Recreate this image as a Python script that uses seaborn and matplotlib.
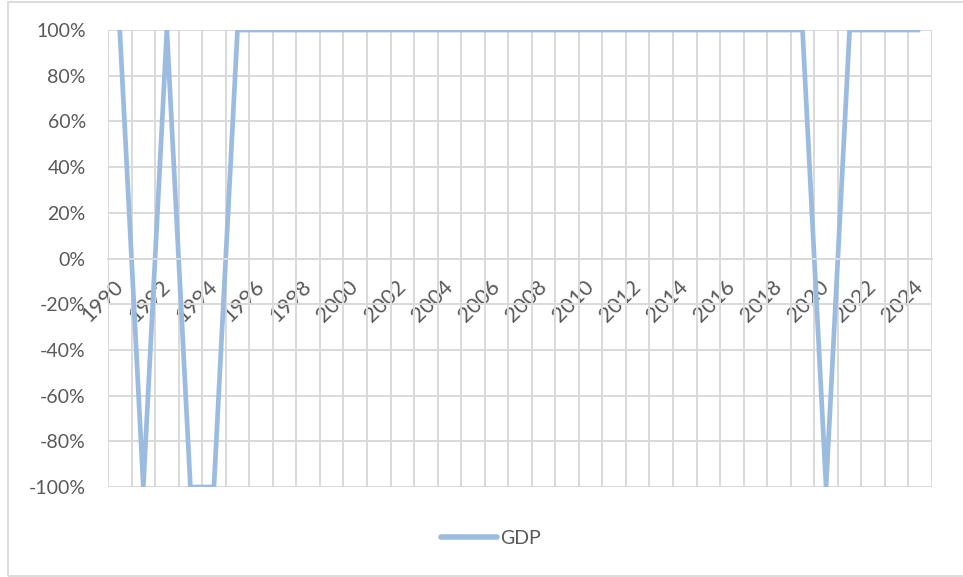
import matplotlib
matplotlib.use("Agg")
import matplotlib.pyplot as plt
from matplotlib.ticker import FixedLocator, FuncFormatter
import seaborn as sns
import pandas as pd
from matplotlib.patches import Rectangle

# Year-on-year GDP growth sign series
years = list(range(1990, 2025))
gdp = [1, -1, 1, -1, -1] + [1] * 25 + [-1] + [1] * 4

sns.set_theme(style="white")
plt.rcParams["font.family"] = ["Lato", "DejaVu Sans"]

df = pd.DataFrame({"pos": range(len(years)), "GDP": gdp, "series": "GDP"})

fig = plt.figure(figsize=(9.63, 5.77), dpi=100)
ax = fig.add_axes([108 / 963, 1 - 487 / 577, (932 - 108) / 963, (487 - 30) / 577])

line_color = "#9BBBE0"
grid_color = "#D9D9D9"
text_color = "#595959"

sns.lineplot(data=df, x="pos", y="GDP", hue="series", palette=[line_color],
             linewidth=3.4, ax=ax, legend=True, solid_capstyle="butt")

ax.set_xlim(-0.5, len(years) - 0.5)
ax.set_ylim(-1, 1)
ax.set_xlabel("")
ax.set_ylabel("")

# vertical gridlines between categories, horizontal every 20%
ax.xaxis.set_minor_locator(FixedLocator([i - 0.5 for i in range(len(years) + 1)]))
ax.xaxis.set_major_locator(FixedLocator(list(range(0, len(years), 2))))
ax.set_xticklabels([str(y) for y in years[::2]])
ax.set_yticks([i / 5 for i in range(-5, 6)])
ax.yaxis.set_major_formatter(FuncFormatter(lambda v, _: f"{round(v * 100)}%"))

ax.grid(False)
ax.grid(True, which="minor", axis="x", color=grid_color, linewidth=1.4)
ax.grid(True, which="major", axis="y", color=grid_color, linewidth=1.4)
ax.set_axisbelow(True)

for s in ["top", "right", "left"]:
    ax.spines[s].set_visible(False)
ax.spines["bottom"].set_position(("data", 0))
ax.spines["bottom"].set_color(grid_color)
ax.spines["bottom"].set_linewidth(1.4)

ax.tick_params(axis="y", which="both", length=0, colors=text_color, labelsize=14, pad=16)
ax.tick_params(axis="x", which="both", length=0, colors=text_color, labelsize=15.5, pad=18)
for lab in ax.get_xticklabels():
    lab.set_rotation(45)
    lab.set_rotation_mode("anchor")
    lab.set_ha("right")
    lab.set_va("center")
    lab.set_color(text_color)

leg = ax.legend(loc="center", bbox_to_anchor=(491 / 963, (577 - 538) / 577),
                bbox_transform=fig.transFigure, frameon=False,
                fontsize=14, handlelength=2.85, handletextpad=0.15,
                labelcolor=text_color)
for h in leg.get_lines():
    h.set_linewidth(4)
    h.set_solid_capstyle("round")

# chart area border
fig.patches.append(Rectangle((8 / 963, 1 / 577), 1.2, 1 - 3 / 577,
                             transform=fig.transFigure, fill=False,
                             edgecolor=grid_color, linewidth=1.3))

fig.savefig("out.png", dpi=100)
